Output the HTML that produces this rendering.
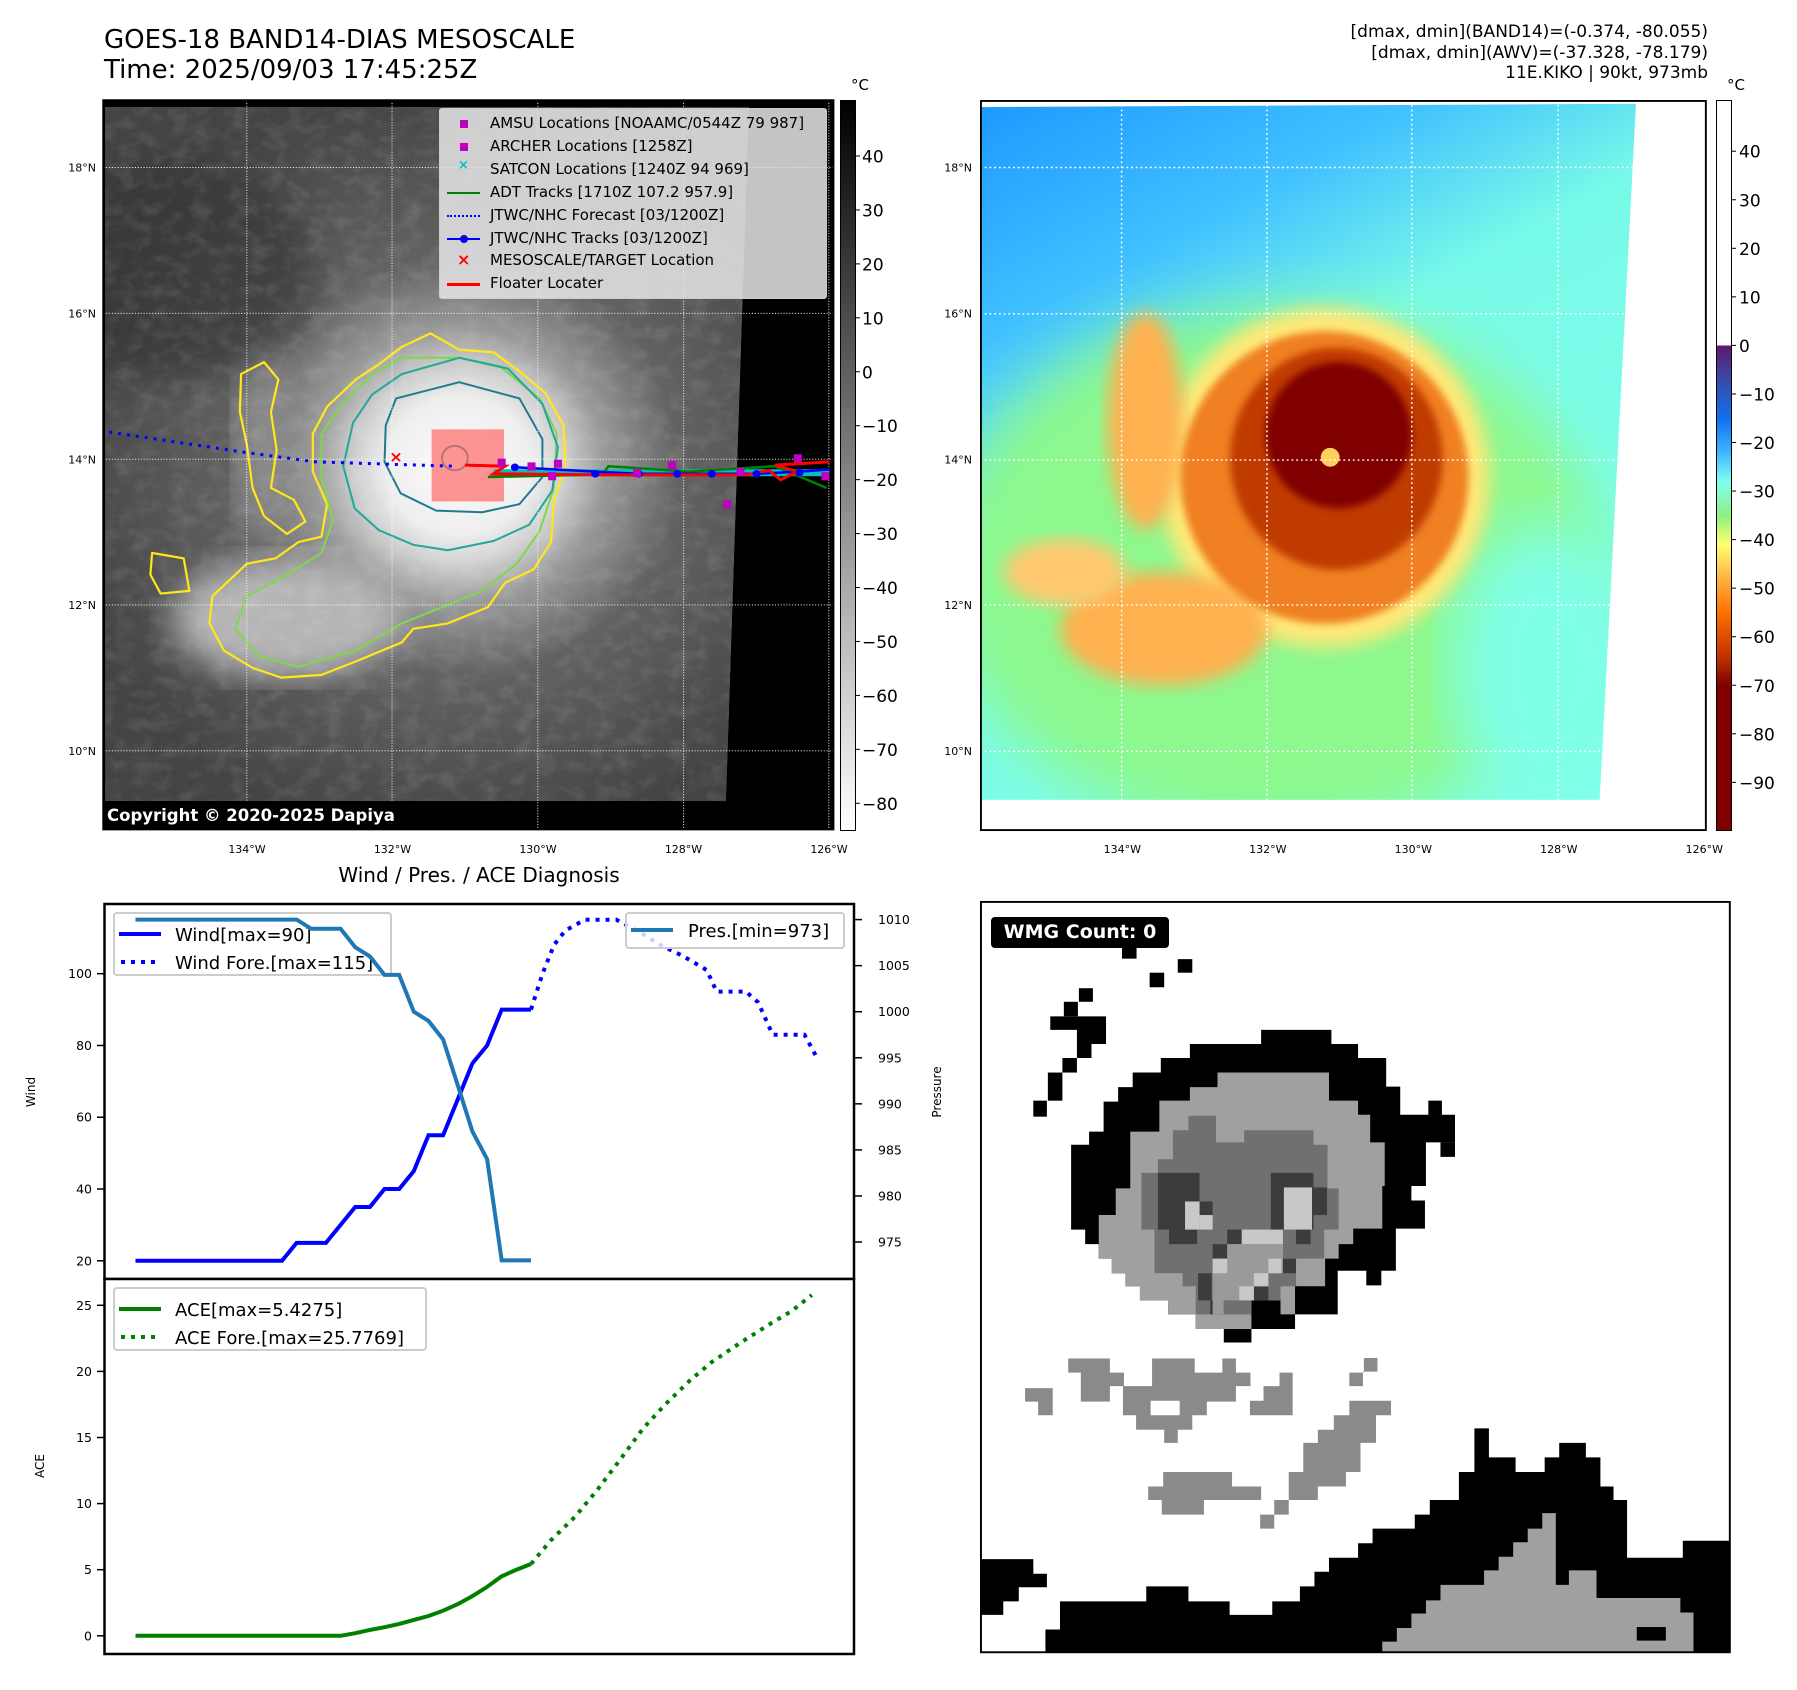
<!DOCTYPE html>
<html><head><meta charset="utf-8">
<style>
body{margin:0;background:#fff;}
#page{position:relative;width:1797px;height:1690px;overflow:hidden;background:#fff;font-family:"DejaVu Sans","Liberation Sans",sans-serif;color:#000;}
.abs{position:absolute;}
.t{position:absolute;white-space:nowrap;}
</style></head>
<body>
<div id="page">

<div class="t" style="left:104px;top:25px;font-size:26px;line-height:30px;">GOES-18 BAND14-DIAS MESOSCALE<br>Time: 2025/09/03 17:45:25Z</div>
<div class="t" style="right:89px;top:22px;font-size:17px;line-height:20.5px;text-align:right;">[dmax, dmin](BAND14)=(-0.374, -80.055)<br>[dmax, dmin](AWV)=(-37.328, -78.179)<br>11E.KIKO | 90kt, 973mb</div>

<!-- LEFT MAP -->
<svg class="abs" style="left:0;top:0" width="900" height="850" viewBox="0 0 1568 1568" preserveAspectRatio="none">
<defs>
<radialGradient id="gg" gradientUnits="userSpaceOnUse" cx="800" cy="860" r="700">
<stop offset="0" stop-color="#fbfbfb"/><stop offset="0.18" stop-color="#eeeeee"/><stop offset="0.26" stop-color="#cfcfcf"/><stop offset="0.36" stop-color="#9a9a9a"/><stop offset="0.55" stop-color="#626262"/><stop offset="1" stop-color="#444444"/></radialGradient>
<filter id="bl1"><feGaussianBlur stdDeviation="30"/></filter>
<filter id="tx"><feTurbulence type="fractalNoise" baseFrequency="0.03 0.04" numOctaves="3" seed="4"/><feColorMatrix type="matrix" values="0 0 0 0 1  0 0 0 0 1  0 0 0 0 1  0 0 0 1.2 -0.5"/></filter>
<clipPath id="lc"><polygon points="183,197 1305,197 1265,1478 183,1478"/></clipPath>
<clipPath id="ax"><rect x="180" y="185" width="1272" height="1345"/></clipPath>
</defs>
<rect x="180" y="185" width="1272" height="1345" fill="#000"/>
<g clip-path="url(#lc)">
<polygon points="183,197 1305,197 1265,1478 183,1478" fill="url(#gg)"/>
<ellipse cx="500" cy="1140" rx="200" ry="110" fill="#b5b5b5" filter="url(#bl1)"/>
<ellipse cx="460" cy="820" rx="50" ry="180" fill="#8a8a8a" filter="url(#bl1)"/>
<ellipse cx="300" cy="500" rx="250" ry="200" fill="#303030" opacity="0.6" filter="url(#bl1)"/>
<rect x="183" y="197" width="1130" height="1290" filter="url(#tx)" opacity="0.2"/>
</g>
<g clip-path="url(#ax)" fill="none" stroke-linejoin="round">
<path vector-effect="non-scaling-stroke" stroke="#ffe81a" stroke-width="2.2" d="M700,640 L750,615 L800,645 L860,650 L905,685 L950,725 L982,785 L985,860 L965,925 L960,1000 L930,1050 L880,1075 L850,1120 L780,1150 L720,1160 L700,1185 L620,1220 L560,1245 L490,1250 L440,1232 L390,1200 L365,1150 L370,1100 L400,1070 L430,1040 L480,1030 L520,1000 L560,990 L570,930 L545,870 L545,800 L570,750 L620,700 L660,672 Z"/>
<path vector-effect="non-scaling-stroke" stroke="#ffe81a" stroke-width="2.2" d="M420,690 L460,668 L485,700 L472,760 L482,830 L472,900 L512,922 L532,962 L500,985 L460,952 L440,900 L430,820 L418,760 Z M265,1020 L320,1030 L330,1090 L280,1095 L262,1060 Z"/>
<path vector-effect="non-scaling-stroke" stroke="#7fd84a" stroke-width="2" d="M700,660 L800,660 L870,675 L940,735 L970,800 L965,900 L940,980 L900,1040 L840,1090 L770,1120 L700,1150 L620,1200 L520,1230 L450,1210 L410,1160 L430,1100 L500,1060 L560,1020 L580,960 L560,880 L560,800 L600,740 L650,690 Z"/>
<path vector-effect="non-scaling-stroke" stroke="#20a898" stroke-width="2" d="M700,690 L800,660 L885,680 L945,745 L972,825 L962,905 L922,968 L860,998 L780,1015 L720,1005 L660,978 L618,938 L598,860 L615,780 L648,728 Z"/>
<path vector-effect="non-scaling-stroke" stroke="#217a8f" stroke-width="2" d="M690,735 L800,705 L905,735 L945,810 L945,880 L905,930 L840,945 L760,942 L698,910 L670,852 L672,785 Z M770,845 a22,22 0 1,0 45,0 a22,22 0 1,0 -45,0"/>
</g>
<g clip-path="url(#ax)" stroke="#fff" stroke-width="1.6" stroke-dasharray="2 3" vector-effect="non-scaling-stroke">
<line x1="430" y1="185" x2="430" y2="1530"/><line x1="683" y1="185" x2="683" y2="1530"/><line x1="937" y1="185" x2="937" y2="1530"/><line x1="1191" y1="185" x2="1191" y2="1530"/><line x1="1444" y1="185" x2="1444" y2="1530"/>
<line x1="180" y1="309" x2="1452" y2="309"/><line x1="180" y1="578" x2="1452" y2="578"/><line x1="180" y1="847" x2="1452" y2="847"/><line x1="180" y1="1116" x2="1452" y2="1116"/><line x1="180" y1="1385" x2="1452" y2="1385"/>
</g>
<rect x="752" y="792" width="126" height="133" fill="#ff6a6a" opacity="0.7"/>
<g clip-path="url(#ax)" fill="none">
<path d="M190,797 L430,835 L550,852 L790,860" stroke="#0000ff" stroke-width="3" stroke-dasharray="3 6" vector-effect="non-scaling-stroke"/>
<path d="M860,872 L1445,872" stroke="#00c0c0" stroke-width="7" vector-effect="non-scaling-stroke"/>
<path d="M850,880 L1050,875 L1060,860 L1200,870 L1350,860 L1440,900" stroke="#008000" stroke-width="2.5" vector-effect="non-scaling-stroke"/>
<path d="M897,862 L1037,870 L1113,874 L1180,874 L1240,874 L1318,874 L1393,870 L1445,866" stroke="#0000ff" stroke-width="2.5" vector-effect="non-scaling-stroke"/>
<path d="M810,858 L880,860 L860,874 L1050,876 L1300,876 L1340,868 L1360,885 L1390,870 L1350,858 L1445,852" stroke="#ff0000" stroke-width="3" vector-effect="non-scaling-stroke"/>
</g>
<g fill="#0000ff"><ellipse cx="897" cy="862" rx="7" ry="7"/><ellipse cx="1037" cy="874" rx="7" ry="7"/><ellipse cx="1113" cy="874" rx="7" ry="7"/><ellipse cx="1180" cy="874" rx="7" ry="7"/><ellipse cx="1240" cy="874" rx="7" ry="7"/><ellipse cx="1318" cy="874" rx="7" ry="7"/><ellipse cx="1393" cy="872" rx="7" ry="7"/></g>
<g fill="#c000c0"><rect x="867" y="846" width="14" height="15"/><rect x="919" y="853" width="14" height="15"/><rect x="965" y="848" width="14" height="15"/><rect x="955" y="871" width="14" height="15"/><rect x="1164" y="851" width="14" height="15"/><rect x="1283" y="863" width="14" height="15"/><rect x="1383" y="838" width="14" height="15"/><rect x="1431" y="871" width="14" height="15"/><rect x="1260" y="923" width="14" height="15"/><rect x="1103" y="865" width="14" height="15"/></g>
<text x="690" y="852" fill="#ff0000" font-size="28" font-weight="bold" text-anchor="middle" font-family="DejaVu Sans">×</text>
<rect x="180" y="185" width="1272" height="1345" fill="none" stroke="#000" stroke-width="2" vector-effect="non-scaling-stroke"/>
</svg>

<div class="abs" style="left:439px;top:108px;width:386px;height:189px;background:rgba(230,230,230,0.85);border:1px solid #ccc;border-radius:3px;font-size:15px;">
<div style="position:relative;height:100%">
<div class="t" style="left:20px;top:11px;width:8px;height:8px;background:#c000c0"></div><div class="t" style="left:50px;top:5px">AMSU Locations [NOAAMC/0544Z 79 987]</div>
<div class="t" style="left:20px;top:34px;width:8px;height:8px;background:#c000c0"></div><div class="t" style="left:50px;top:28px">ARCHER Locations [1258Z]</div>
<div class="t" style="left:18px;top:49px;color:#00c0c0;font-size:13px;font-weight:bold">×</div><div class="t" style="left:50px;top:51px">SATCON Locations [1240Z 94 969]</div>
<div class="t" style="left:7px;top:83px;width:33px;height:2px;background:#008000"></div><div class="t" style="left:50px;top:74px">ADT Tracks [1710Z 107.2 957.9]</div>
<div class="t" style="left:7px;top:106px;width:33px;border-top:2px dotted #0000ff"></div><div class="t" style="left:50px;top:97px">JTWC/NHC Forecast [03/1200Z]</div>
<div class="t" style="left:7px;top:129px;width:33px;height:2px;background:#0000ff"></div><div class="t" style="left:20px;top:126px;width:8px;height:8px;border-radius:4px;background:#0000ff"></div><div class="t" style="left:50px;top:120px">JTWC/NHC Tracks [03/1200Z]</div>
<div class="t" style="left:17px;top:141px;color:#ff0000;font-size:16px;font-weight:bold">×</div><div class="t" style="left:50px;top:142px">MESOSCALE/TARGET Location</div>
<div class="t" style="left:7px;top:174px;width:33px;height:3px;background:#ff0000"></div><div class="t" style="left:50px;top:165px">Floater Locater</div>
</div></div>

<div class="t" style="left:104px;top:802px;width:306px;height:27px;background:#000;color:#fff;font-weight:bold;font-size:16.5px;line-height:27px;padding-left:3px;">Copyright © 2020-2025 Dapiya</div>

<!-- left colorbar -->
<div class="abs" style="left:840px;top:100px;width:14px;height:729px;border:1px solid #000;background:linear-gradient(#000,#fff);"></div>
<div class="t" style="left:851px;top:76px;font-size:15px">°C</div>

<!-- RIGHT MAP -->
<svg class="abs" style="left:980px;top:100px" width="740" height="740" viewBox="0 0 1568 1568">
<defs>
<linearGradient id="bgr" x1="0" y1="0" x2="0.55" y2="1"><stop offset="0" stop-color="#1e98ff"/><stop offset="0.25" stop-color="#40c0ff"/><stop offset="0.45" stop-color="#78fae8"/><stop offset="1" stop-color="#80ffec"/></linearGradient>
<filter id="b2"><feGaussianBlur stdDeviation="60"/></filter>
<filter id="b3"><feGaussianBlur stdDeviation="18"/></filter>
<filter id="b4"><feGaussianBlur stdDeviation="8"/></filter>
<clipPath id="rc"><polygon points="0,15 1390,8 1313,1483 0,1483"/></clipPath>
</defs>
<g clip-path="url(#rc)">
<rect x="0" y="0" width="1568" height="1568" fill="url(#bgr)"/>
<ellipse cx="620" cy="1000" rx="700" ry="560" fill="#8cf88e" filter="url(#b2)"/>
<ellipse cx="1200" cy="1200" rx="200" ry="300" fill="#80ffe8" filter="url(#b2)"/>
<ellipse cx="730" cy="800" rx="350" ry="360" fill="#ffe878" filter="url(#b3)"/>
<ellipse cx="390" cy="1120" rx="220" ry="120" fill="#ffb050" filter="url(#b3)"/>
<ellipse cx="350" cy="680" rx="80" ry="230" fill="#ffb050" filter="url(#b3)"/>
<ellipse cx="180" cy="1000" rx="130" ry="70" fill="#ffc870" filter="url(#b3)"/>
<ellipse cx="730" cy="800" rx="305" ry="310" fill="#f08022" filter="url(#b4)"/>
<ellipse cx="755" cy="760" rx="225" ry="235" fill="#c03a00" filter="url(#b4)"/>
<ellipse cx="760" cy="710" rx="155" ry="155" fill="#800000" filter="url(#b4)"/>
<circle cx="742" cy="757" r="20" fill="#ffd060"/>
<g stroke="#fff" stroke-width="3" stroke-dasharray="4 6">
<line x1="300" y1="0" x2="300" y2="1568"/><line x1="608" y1="0" x2="608" y2="1568"/><line x1="915" y1="0" x2="915" y2="1568"/><line x1="1225" y1="0" x2="1225" y2="1568"/>
<line x1="0" y1="143" x2="1568" y2="143"/><line x1="0" y1="453" x2="1568" y2="453"/><line x1="0" y1="763" x2="1568" y2="763"/><line x1="0" y1="1070" x2="1568" y2="1070"/><line x1="0" y1="1380" x2="1568" y2="1380"/>
</g></g>
<rect x="2" y="2" width="1536" height="1545" fill="none" stroke="#000" stroke-width="4"/>
</svg>

<!-- right colorbar -->
<div class="abs" style="left:1716px;top:100px;width:14px;height:729px;border:1px solid #000;background:linear-gradient(#fff 0px,#fff 244px,#5c1a6e 245px,#3a4aa8 279px,#1070f0 318px,#40b8ff 352px,#80fff0 381px,#90f080 415px,#ffff70 444px,#ffb040 478px,#ff7000 512px,#c03000 556px,#800000 585px,#800000 729px);"></div>
<div class="t" style="left:1727px;top:76px;font-size:15px">°C</div>

<div class="t" style="left:479px;top:862px;transform:translateX(-50%);font-size:20px;line-height:26px">Wind / Pres. / ACE Diagnosis</div>

<!-- CHARTS -->
<svg id="chart" class="abs" style="left:0;top:0" width="1797" height="1690"></svg>

<!-- WMG -->
<svg class="abs" style="left:980px;top:900px" width="760" height="760" viewBox="0 0 1568 1568">
<rect x="2" y="4" width="1545" height="1548" fill="#fff"/>
<g fill="#000">
<polygon points="580,268 725,268 725,297 780,297 780,326 838,326 838,385 867,385 867,443 925,443 925,414 953,414 953,443 980,443 980,500 920,500 920,590 890,590 890,620 918,620 918,678 858,678 858,765 828,765 828,795 797,795 797,765 738,765 738,855 650,855 650,885 560,885 560,913 503,913 503,885 445,885 445,855 388,855 388,826 330,826 330,797 300,797 300,770 272,770 272,740 245,740 245,710 217,710 217,680 188,680 188,505 225,505 225,478 255,478 255,416 285,416 285,386 315,386 315,356 373,356 373,326 433,326 433,297 580,297"/>
<rect x="293" y="97" width="30" height="24"/><rect x="408" y="122" width="30" height="28"/><rect x="350" y="150" width="30" height="30"/><rect x="204" y="182" width="29" height="28"/><rect x="173" y="210" width="29" height="30"/>
<polygon points="173,240 260,240 260,297 230,297 230,326 200,326 200,268 145,268 145,240"/>
<rect x="170" y="326" width="30" height="30"/><rect x="140" y="356" width="30" height="58"/><rect x="110" y="414" width="28" height="33"/><rect x="950" y="500" width="30" height="30"/>
<polygon points="0,1360 110,1360 110,1390 138,1390 138,1418 80,1418 80,1447 48,1447 48,1475 0,1475"/>
<polygon points="165,1447 343,1447 343,1416 430,1416 430,1447 515,1447 515,1475 603,1475 603,1447 660,1447 660,1416 690,1416 690,1386 720,1386 720,1357 780,1357 780,1327 810,1327 810,1297 897,1297 897,1268 928,1268 928,1238 988,1238 988,1180 1020,1180 1020,1090 1050,1090 1050,1150 1105,1150 1105,1180 1165,1180 1165,1150 1195,1150 1195,1120 1250,1120 1250,1150 1280,1150 1280,1210 1307,1210 1307,1238 1335,1238 1335,1357 1450,1357 1450,1322 1546,1322 1546,1552 135,1552 135,1505 165,1505"/>
</g>
<polygon fill="#a0a0a0" points="490,356 720,356 720,414 780,414 780,443 805,443 805,500 835,500 835,590 830,590 830,678 770,678 770,710 740,710 740,740 712,740 712,797 650,797 650,855 620,855 620,826 560,826 560,885 445,885 445,855 388,855 388,826 330,826 330,797 300,797 300,770 272,770 272,740 245,740 245,650 280,650 280,595 310,595 310,478 370,478 370,414 433,414 433,386 490,386"/>
<polygon fill="#707070" points="430,445 487,445 487,500 545,500 545,475 688,475 688,505 717,505 717,595 740,595 740,680 710,680 710,740 652,740 652,797 620,797 620,826 560,826 560,855 445,855 445,797 418,797 418,770 360,770 360,680 333,680 333,563 367,563 367,535 398,535 398,475 430,475"/>
<g fill="#3c3c3c"><rect x="367" y="563" width="86" height="117"/><rect x="390" y="680" width="58" height="30"/><rect x="600" y="563" width="88" height="117"/><rect x="688" y="593" width="28" height="57"/><rect x="453" y="622" width="27" height="28"/><rect x="510" y="680" width="30" height="30"/><rect x="480" y="710" width="30" height="30"/><rect x="450" y="770" width="28" height="56"/><rect x="475" y="826" width="28" height="29"/><rect x="565" y="797" width="30" height="29"/><rect x="622" y="740" width="30" height="30"/><rect x="652" y="680" width="30" height="30"/></g>
<polygon fill="#9a9a9a" points="540,710 625,710 625,770 595,770 595,797 565,797 565,826 503,826 503,855 480,855 480,740 510,740 510,710"/>
<g fill="#c8c8c8"><rect x="423" y="622" width="30" height="58"/><rect x="453" y="650" width="27" height="30"/><rect x="627" y="593" width="58" height="87"/><rect x="540" y="680" width="85" height="30"/><rect x="565" y="770" width="30" height="27"/><rect x="535" y="797" width="30" height="29"/><rect x="480" y="740" width="30" height="30"/><rect x="595" y="740" width="27" height="30"/></g>
<g fill="#8a8a8a">
<polygon points="182,946 268,946 268,975 297,975 297,1003 268,1003 268,1035 208,1035 208,975 182,975"/>
<polygon points="93,1007 150,1007 150,1063 120,1063 120,1035 93,1035"/>
<path fill-rule="evenodd" d="M355,946 L443,946 L443,975 L500,975 L500,946 L528,946 L528,975 L558,975 L558,1003 L528,1003 L528,1035 L468,1035 L468,1063 L438,1063 L438,1093 L408,1093 L408,1120 L380,1120 L380,1093 L322,1093 L322,1063 L295,1063 L295,1003 L355,1003 Z M352,1033 L412,1033 L412,1063 L352,1063 Z"/>
<polygon points="618,975 645,975 645,1063 557,1063 557,1033 585,1033 585,1003 618,1003"/>
<polygon points="792,945 820,945 820,973 790,973 790,1003 762,1003 762,975 792,975"/>
<polygon points="762,1033 848,1033 848,1063 817,1063 817,1120 785,1120 785,1180 755,1180 755,1210 697,1210 697,1238 637,1238 637,1268 607,1268 607,1297 578,1297 578,1268 607,1268 607,1238 637,1238 637,1180 667,1180 667,1120 697,1120 697,1093 730,1093 730,1063 762,1063"/>
<polygon points="378,1180 520,1180 520,1210 580,1210 580,1238 462,1238 462,1268 375,1268 375,1238 347,1238 347,1210 378,1210"/>
</g>
<polygon fill="#a0a0a0" points="1160,1265 1188,1265 1188,1413 1215,1413 1215,1383 1272,1383 1272,1440 1445,1440 1445,1470 1472,1470 1472,1552 830,1552 830,1530 860,1530 860,1502 890,1502 890,1472 920,1472 920,1445 950,1445 950,1413 1040,1413 1040,1383 1070,1383 1070,1355 1100,1355 1100,1325 1130,1325 1130,1297 1160,1297"/>
<rect x="1355" y="1500" width="60" height="28" fill="#000"/>
<rect x="2" y="4" width="1545" height="1548" fill="none" stroke="#000" stroke-width="4"/>
</svg>
<div class="t" style="left:991px;top:917px;width:178px;height:31px;background:#000;color:#fff;border-radius:4px;font-weight:bold;font-size:19px;line-height:31px;text-align:center">WMG Count: 0</div>

</div>
<script>
// ----- chart data -----
const obsHours = [0,6,12,18,24,30,36,42,48,54,60,66,72,78,84,90,96,102,108,114,120,126,132,138,144,150,156,162];
const windObs = [20,20,20,20,20,20,20,20,20,20,20,25,25,25,30,35,35,40,40,45,55,55,65,75,80,90,90,90];
const presObs = [1010,1010,1010,1010,1010,1010,1010,1010,1010,1010,1010,1010,1009,1009,1009,1007,1006,1004,1004,1000,999,997,992,987,984,973,973,973];
const aceObs = [0,0,0,0,0,0,0,0,0,0,0,0,0,0,0,0.2,0.45,0.65,0.9,1.2,1.5,1.9,2.4,3.0,3.7,4.5,5.0,5.43];
const windForeHours = [162,166.7,171.4,176,184,197,205.5,215,224,234,238,250,255,261,274,279.6];
const windFore = [90,100,108,112,115,115,112,108,105,101,95,95,92,83,83,76];
const aceForeHours = [162,170,180,189,198,208,217,227,236,248,260,269,277];
const aceFore = [5.43,7.2,9.0,11.0,13.2,15.7,17.5,19.3,20.7,22.2,23.6,24.6,25.78];
const windTicks = [20,40,60,80,100];
const presTicks = [975,980,985,990,995,1000,1005,1010];
const aceTicks = [0,5,10,15,20,25];
const leftCbTicks = [40,30,20,10,0,-10,-20,-30,-40,-50,-60,-70,-80];
const rightCbTicks = [40,30,20,10,0,-10,-20,-30,-40,-50,-60,-70,-80,-90];
const lonLabels = ['134°W','132°W','130°W','128°W','126°W'];
const latLabels = ['18°N','16°N','14°N','12°N','10°N'];

const xs = h => 135.5 + h*2.4415;
const yw = v => 1260.8 - (v-20)*3.589;
const yp = v => 919.6 + (1010-v)*9.212;
const ya = v => 1635.8 - v*13.22;
const ylc = v => 156 + (40-v)*5.394;
const yrc = v => 151.2 + (40-v)*4.855;
const lonX = i => 247 + i*145.5;
const latY = i => 167.5 + i*145.9;

const NS='http://www.w3.org/2000/svg';
const svg=document.getElementById('chart');
function mk(tag,attrs,parent){const e=document.createElementNS(NS,tag);for(const k in attrs)e.setAttribute(k,attrs[k]);(parent||svg).appendChild(e);return e;}
function pts(hs,vs,f){return hs.map((h,i)=>xs(h).toFixed(1)+','+f(vs[i]).toFixed(1)).join(' ');}
function txt(x,y,s,size,anchor,name,parent){const t=mk('text',{x:x,y:y,'font-size':size,'text-anchor':anchor||'start','font-family':'DejaVu Sans, Liberation Sans, sans-serif'},parent);t.textContent=s;


return t;}

let r1=mk('rect',{x:104.5,y:904,width:749.5,height:375,fill:'#fff',stroke:'#000','stroke-width':2.5});


let r2=mk('rect',{x:104.5,y:1279,width:749.5,height:375,fill:'#fff',stroke:'#000','stroke-width':2.5});



windTicks.forEach(v=>{mk('line',{x1:97,x2:104.5,y1:yw(v),y2:yw(v),stroke:'#000','stroke-width':1.5});txt(92,yw(v)+4.5,String(v),12.5,'end','wind-tick-label');});
presTicks.forEach(v=>{mk('line',{x1:854,x2:862,y1:yp(v),y2:yp(v),stroke:'#000','stroke-width':1.5});txt(878,yp(v)+4.5,String(v),12.5,'start','pressure-tick-label');});
aceTicks.forEach(v=>{mk('line',{x1:97,x2:104.5,y1:ya(v),y2:ya(v),stroke:'#000','stroke-width':1.5});txt(92,ya(v)+4.5,String(v),12.5,'end','ace-tick-label');});
let wl=txt(0,0,'Wind',12,'middle','wind-axis-title');wl.setAttribute('transform','translate(35,1092) rotate(-90)');
let pl=txt(0,0,'Pressure',12,'middle','pressure-axis-title');pl.setAttribute('transform','translate(941,1092) rotate(-90)');
let al=txt(0,0,'ACE',12,'middle','ace-axis-title');al.setAttribute('transform','translate(44,1466) rotate(-90)');

let wo=mk('polyline',{points:pts(obsHours,windObs,yw),fill:'none',stroke:'#0000ff','stroke-width':4});


let wf=mk('polyline',{points:pts(windForeHours,windFore,yw),fill:'none',stroke:'#0000ff','stroke-width':4,'stroke-dasharray':'4 6'});


let lg=mk('rect',{x:114,y:913,width:277,height:62,rx:3,fill:'#fff','fill-opacity':0.8,stroke:'#ccc','stroke-width':2});


mk('line',{x1:119,x2:161,y1:934,y2:934,stroke:'#0000ff','stroke-width':4});
mk('line',{x1:121,x2:161,y1:962,y2:962,stroke:'#0000ff','stroke-width':4,'stroke-dasharray':'4 6'});
txt(175,941,'Wind[max=90]',18,'start','wind-legend-label');
txt(175,969,'Wind Fore.[max=115]',18,'start','wind-forecast-legend-label');
let po=mk('polyline',{points:pts(obsHours,presObs,yp),fill:'none',stroke:'#1f77b4','stroke-width':4});


let pg=mk('rect',{x:626,y:913,width:218,height:35,rx:3,fill:'#fff','fill-opacity':0.8,stroke:'#ccc','stroke-width':2});


mk('line',{x1:631,x2:673,y1:930,y2:930,stroke:'#1f77b4','stroke-width':4});
txt(688,937,'Pres.[min=973]',18,'start','pressure-legend-label');
let ao=mk('polyline',{points:pts(obsHours,aceObs,ya),fill:'none',stroke:'#008000','stroke-width':4});


let af=mk('polyline',{points:pts(aceForeHours,aceFore,ya),fill:'none',stroke:'#008000','stroke-width':4,'stroke-dasharray':'4 6'});


let ag=mk('rect',{x:114,y:1288,width:312,height:62,rx:3,fill:'#fff','fill-opacity':0.8,stroke:'#ccc','stroke-width':2});


mk('line',{x1:119,x2:161,y1:1309,y2:1309,stroke:'#008000','stroke-width':4});
mk('line',{x1:121,x2:161,y1:1337,y2:1337,stroke:'#008000','stroke-width':4,'stroke-dasharray':'4 6'});
txt(175,1316,'ACE[max=5.4275]',18,'start','ace-legend-label');
txt(175,1344,'ACE Fore.[max=25.7769]',18,'start','ace-forecast-legend-label');

leftCbTicks.forEach(v=>{
 mk('line',{x1:855,x2:860,y1:ylc(v),y2:ylc(v),stroke:'#000','stroke-width':1});
 txt(862,ylc(v)+6.5,(v<0?'\u2212'+(-v):String(v)),17,'start','left-colorbar-tick');
});
rightCbTicks.forEach(v=>{
 mk('line',{x1:1731,x2:1736,y1:yrc(v),y2:yrc(v),stroke:'#000','stroke-width':1});
 txt(1739,yrc(v)+6.5,(v<0?'\u2212'+(-v):String(v)),17,'start','right-colorbar-tick');
});
lonLabels.forEach((s,i)=>{txt(lonX(i),853,s,11,'middle','left-lon-label');txt(lonX(i)+875.3,853,s,11,'middle','right-lon-label');});
latLabels.forEach((s,i)=>{txt(96,latY(i)+4,s,11,'end','left-lat-label');txt(972,latY(i)+4,s,11,'end','right-lat-label');});
</script>
</body></html>
